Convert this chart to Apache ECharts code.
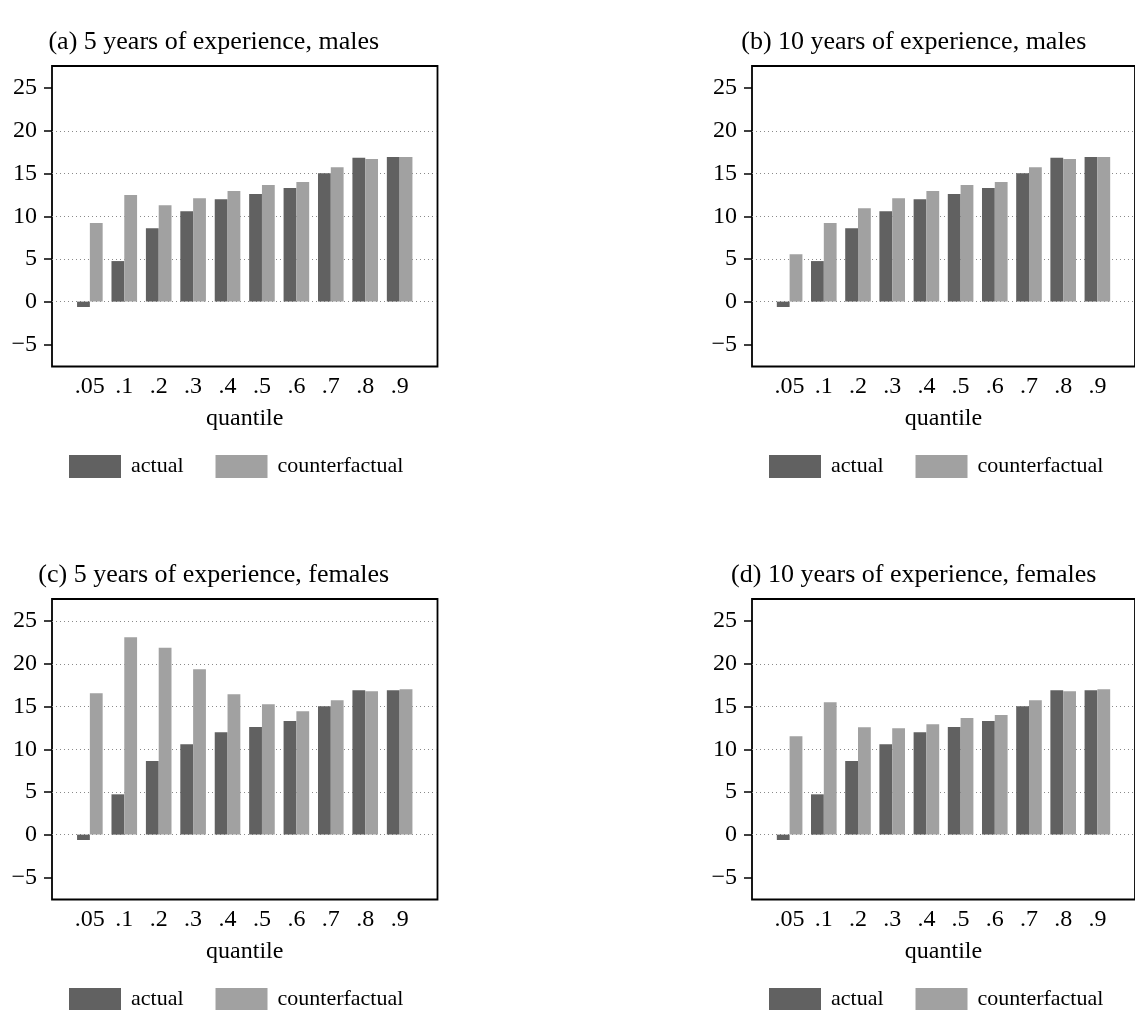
<!DOCTYPE html>
<html>
<head>
<meta charset="utf-8">
<title>Actual vs counterfactual wage growth by quantile</title>
<script src="https://cdn.jsdelivr.net/npm/echarts@6/dist/echarts.min.js"></script>
<style>
  html, body { margin: 0; padding: 0; background: #fff; }
  #chart { width: 1135px; height: 1010px; }
</style>
</head>
<body>
<div id="chart"></div>
<script>
// Quantiles on the horizontal axis
const quantileLabels = ['.05', '.1', '.2', '.3', '.4', '.5', '.6', '.7', '.8', '.9'];
const yTicks = [-5, 0, 5, 10, 15, 20, 25];

// (a) 5 years of experience, males
const actualA = [-0.63, 4.75, 8.6, 10.6, 12.0, 12.6, 13.3, 15.05, 16.85, 16.95];
const counterA = [9.2, 12.5, 11.3, 12.1, 12.95, 13.65, 14.0, 15.75, 16.7, 16.95];
// (b) 10 years of experience, males
const actualB = [-0.63, 4.75, 8.6, 10.6, 12.0, 12.6, 13.3, 15.05, 16.85, 16.95];
const counterB = [5.55, 9.2, 10.95, 12.1, 12.95, 13.65, 14.0, 15.75, 16.7, 16.95];
// (c) 5 years of experience, females
const actualC = [-0.63, 4.72, 8.62, 10.6, 12.0, 12.6, 13.3, 15.05, 16.9, 16.92];
const counterC = [16.56, 23.13, 21.88, 19.38, 16.45, 15.27, 14.45, 15.74, 16.8, 17.03];
// (d) 10 years of experience, females
const actualD = [-0.63, 4.72, 8.62, 10.6, 12.0, 12.6, 13.3, 15.05, 16.9, 16.92];
const counterD = [11.52, 15.51, 12.58, 12.46, 12.93, 13.67, 14.02, 15.74, 16.8, 17.03];

const panelTitles = [
  '(a) 5 years of experience, males',
  '(b) 10 years of experience, males',
  '(c) 5 years of experience, females',
  '(d) 10 years of experience, females'
];
// Dotted reference lines drawn in each panel
const gridLevelsA = [0, 5, 10, 15, 20];
const gridLevelsB = [0, 5, 10, 15, 20];
const gridLevelsC = [0, 5, 10, 15, 20, 25];
const gridLevelsD = [0, 5, 10, 15, 20];

const FONT = '"Liberation Serif", "Times New Roman", "DejaVu Serif", serif';
const DARK = '#616161';
const LIGHT = '#a1a1a1';

const panels = [
  { left: 52,  top: 66,  actual: actualA, counter: counterA, levels: gridLevelsA },
  { left: 752, top: 66,  actual: actualB, counter: counterB, levels: gridLevelsB },
  { left: 52,  top: 599, actual: actualC, counter: counterC, levels: gridLevelsC },
  { left: 752, top: 599, actual: actualD, counter: counterD, levels: gridLevelsD }
];
const PW = 385.5, PH = 300.5;

const grids = [], xAxes = [], yAxes = [], series = [], legends = [], graphics = [];

panels.forEach((p, k) => {
  grids.push({
    left: p.left, top: p.top, width: PW, height: PH,
    show: true, borderColor: '#000', borderWidth: 1.8, backgroundColor: '#fff',
    containLabel: false
  });
  xAxes.push({
    gridIndex: k, type: 'value', min: -1.1, max: 10.1, position: 'bottom',
    axisLine: { show: false, onZero: false }, axisTick: { show: false }, splitLine: { show: false },
    axisLabel: {
      customValues: quantileLabels.map((_, i) => i),
      formatter: v => quantileLabels[Math.round(v)],
      fontFamily: FONT, fontSize: 24, color: '#000', margin: 8
    },
    name: 'quantile', nameLocation: 'middle', nameGap: 40,
    nameTextStyle: { fontFamily: FONT, fontSize: 24, color: '#000' }
  });
  yAxes.push({
    gridIndex: k, type: 'value', min: -7.6, max: 27.6, position: 'left',
    axisLine: { show: false, onZero: false },
    axisTick: { show: true, inside: false, length: 8, customValues: yTicks,
                lineStyle: { color: '#000', width: 1.5 } },
    axisLabel: {
      customValues: yTicks,
      formatter: v => String(v).replace('-', '\u2212'),
      fontFamily: FONT, fontSize: 24, color: '#000', margin: 15
    },
    splitLine: { show: false }
  });
  const toPts = arr => arr.map((v, i) => [i, v]);
  series.push({
    name: 'actual', type: 'bar', xAxisIndex: k, yAxisIndex: k,
    data: toPts(p.actual), barWidth: 12.8, barGap: '0%', z: 3,
    itemStyle: { color: DARK }, animation: false,
    markLine: {
      silent: true, symbol: ['none', 'none'], z: 1, animation: false,
      label: { show: false },
      lineStyle: { type: [1, 3], color: '#8a8a8a', width: 1 },
      data: p.levels.map(v => ({ yAxis: v }))
    }
  });
  series.push({
    name: 'counterfactual', type: 'bar', xAxisIndex: k, yAxisIndex: k,
    data: toPts(p.counter), barWidth: 12.8, barGap: '0%', z: 3,
    itemStyle: { color: LIGHT }, animation: false
  });
  legends.push({
    left: p.left + 17, top: p.top + 389, orient: 'horizontal', padding: 0,
    icon: 'rect', itemWidth: 52, itemHeight: 23, itemGap: 32,
    selectedMode: false,
    textStyle: { fontFamily: FONT, fontSize: 22, color: '#000', padding: [0, 0, 0, 5] },
    data: ['actual', 'counterfactual']
  });
  graphics.push({
    type: 'text', x: p.left + PW / 2 - 31, y: p.top - 24,
    style: { text: panelTitles[k], font: '26px ' + FONT, fill: '#000',
             textAlign: 'center', textVerticalAlign: 'middle' }
  });
});

const chart = echarts.init(document.getElementById('chart'), null, { renderer: 'canvas' });
chart.setOption({
  animation: false,
  backgroundColor: '#fff',
  grid: grids, xAxis: xAxes, yAxis: yAxes,
  series: series, legend: legends, graphic: graphics
});
</script>
</body>
</html>
